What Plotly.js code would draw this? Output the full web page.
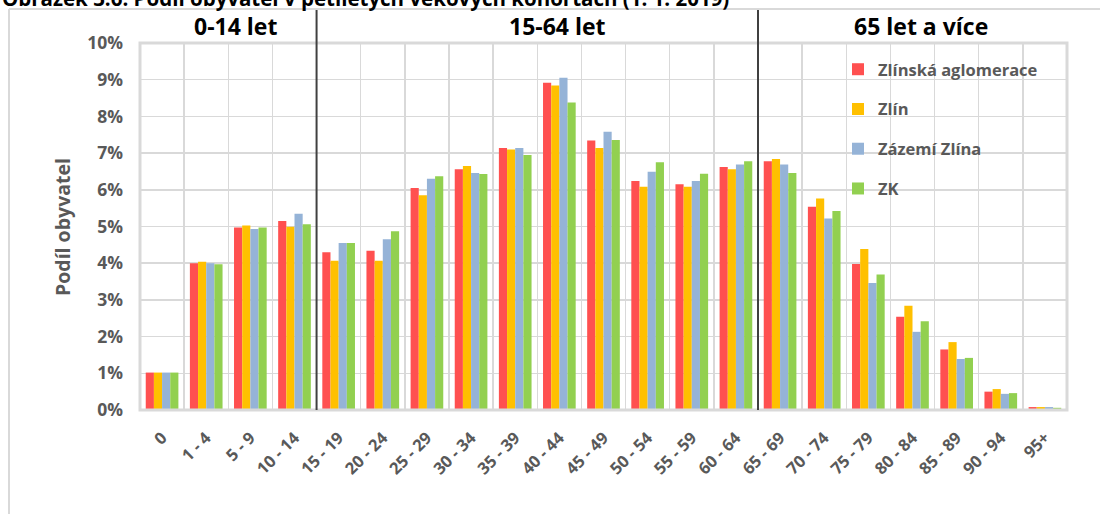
<!DOCTYPE html>
<html>
<head>
<meta charset="utf-8">
<script src="https://cdn.plot.ly/plotly-3.0.1.min.js"></script>
<style>html,body{margin:0;padding:0;background:#fff;}#chart{width:1100px;height:514px;}</style>
</head>
<body>
<div id="chart"></div>
<script>
const categories = ["0","1 - 4","5 - 9","10 - 14","15 - 19","20 - 24","25 - 29","30 - 34","35 - 39","40 - 44","45 - 49","50 - 54","55 - 59","60 - 64","65 - 69","70 - 74","75 - 79","80 - 84","85 - 89","90 - 94","95+"];
const seriesNames = ["Zlínská aglomerace","Zlín","Zázemí Zlína","ZK"];
const aglomerace = [1.02,4.00,4.97,5.15,4.30,4.34,6.05,6.56,7.14,8.92,7.34,6.24,6.15,6.62,6.78,5.54,3.98,2.54,1.65,0.50,0.08];
const zlin       = [1.02,4.04,5.03,4.99,4.07,4.07,5.85,6.65,7.10,8.84,7.14,6.08,6.08,6.56,6.84,5.76,4.39,2.84,1.85,0.57,0.08];
const zazemi     = [1.02,4.00,4.93,5.35,4.55,4.65,6.30,6.46,7.14,9.05,7.58,6.49,6.24,6.69,6.69,5.22,3.46,2.13,1.39,0.44,0.08];
const zk         = [1.02,3.97,4.97,5.06,4.55,4.87,6.37,6.43,6.95,8.38,7.36,6.75,6.44,6.78,6.46,5.42,3.69,2.42,1.42,0.46,0.06];
const groupLabels = ["0-14 let","15-64 let","65 let a více"];
const titleText = "Obrázek 3.6: Podíl obyvatel v pětiletých věkových kohortách (1. 1. 2019)";
const yTitle = "Podíl obyvatel";

const colors = ["#FF5050","#FFC000","#95B3D7","#92D050"];
const values = [aglomerace, zlin, zazemi, zk];
const FONT = "'Open Sans', Lato, sans-serif";

const traces = values.map((v,i)=>({
  type:'bar', x:categories, y:v, name:seriesNames[i], legendgroup:'g'+i,
  marker:{color:colors[i], line:{width:0}}
}));

// pixel helpers (plot: left 140, top 43, width 927, height 367)
const px2x = p => (p-140)/927;
const py2y = p => (410-p)/367;

const layout = {
  width:1100, height:514,
  margin:{l:140, r:33, t:43, b:104, pad:0},
  paper_bgcolor:'#ffffff', plot_bgcolor:'#ffffff',
  barmode:'group', bargap:0.26, bargroupgap:0,
  font:{family:FONT, color:'#595959'},
  showlegend:true,
  legend:{x:px2x(838), y:py2y(52), xanchor:'left', yanchor:'top',
    bgcolor:'rgba(0,0,0,0)', tracegroupgap:15.3,
    font:{family:FONT, size:16.5, color:'#595959', weight:'bold'}},
  xaxis:{type:'category', range:[-0.5,20.5], tickson:'boundaries',
    showgrid:true, gridcolor:'#D9D9D9', gridwidth:1.5, ticks:'', showline:false, zeroline:false,
    tickangle:-45, ticklabelstandoff:14,
    tickfont:{family:FONT, size:16.5, color:'#595959', weight:'bold'}, fixedrange:true},
  yaxis:{range:[0,10], dtick:1, ticksuffix:'%', showgrid:true, gridcolor:'#D9D9D9', gridwidth:1.5,
    zeroline:false, showline:false, ticks:'', ticklabelstandoff:16,
    tickfont:{family:FONT, size:17.5, color:'#595959', weight:'bold'}, fixedrange:true},
  shapes:[
    {type:'rect', xref:'paper', yref:'paper', x0:0, x1:1, y0:0, y1:1, line:{color:'#D9D9D9', width:3}, layer:'above'},
    {type:'line', xref:'x', yref:'paper', x0:3.5, x1:3.5, y0:0, y1:py2y(10), line:{color:'#404040', width:2}},
    {type:'line', xref:'x', yref:'paper', x0:13.5, x1:13.5, y0:0, y1:py2y(10), line:{color:'#404040', width:2}},
    {type:'line', xref:'paper', yref:'paper', x0:px2x(9), x1:px2x(9), y0:py2y(9), y1:py2y(520), line:{color:'#D9D9D9', width:2}},
    {type:'line', xref:'paper', yref:'paper', x0:px2x(9), x1:px2x(1105), y0:py2y(9), y1:py2y(9), line:{color:'#D9D9D9', width:2}}
  ],
  annotations:[
    {text:groupLabels[0], xref:'paper', yref:'paper', x:px2x(235), y:py2y(26), showarrow:false, xanchor:'center', yanchor:'middle', font:{family:FONT, size:23, color:'#000000', weight:'bold'}},
    {text:groupLabels[1], xref:'paper', yref:'paper', x:px2x(557), y:py2y(26), showarrow:false, xanchor:'center', yanchor:'middle', font:{family:FONT, size:23, color:'#000000', weight:'bold'}},
    {text:groupLabels[2], xref:'paper', yref:'paper', x:px2x(921), y:py2y(26), showarrow:false, xanchor:'center', yanchor:'middle', font:{family:FONT, size:23, color:'#000000', weight:'bold'}},
    {text:yTitle, xref:'paper', yref:'paper', x:px2x(62), y:py2y(227), showarrow:false, textangle:-90, xanchor:'center', yanchor:'middle', font:{family:FONT, size:19.5, color:'#595959', weight:'bold'}},
    {text:titleText, xref:'paper', yref:'paper', x:px2x(0), y:py2y(14), showarrow:false, xanchor:'left', yanchor:'bottom', font:{family:FONT, size:20.5, color:'#000000', weight:'bold'}}
  ]
};

Plotly.newPlot('chart', traces, layout, {displayModeBar:false, staticPlot:true});
</script>
</body>
</html>
